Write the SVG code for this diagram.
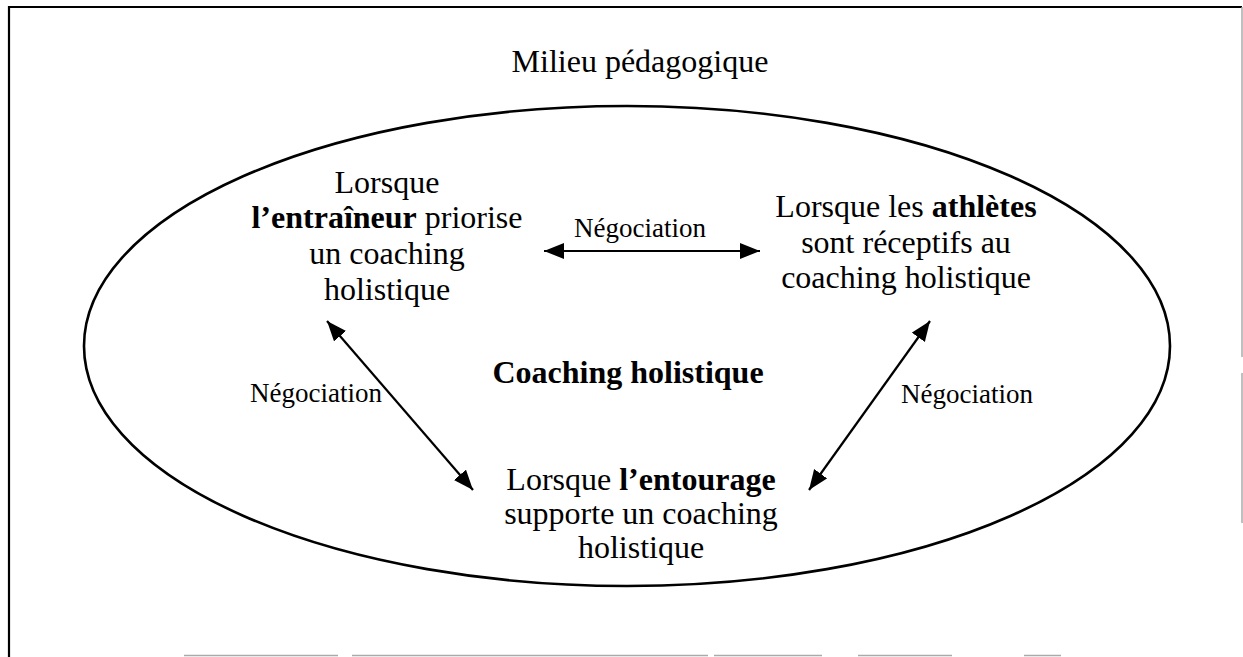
<svg xmlns="http://www.w3.org/2000/svg" width="1243" height="657" viewBox="0 0 1243 657">
  <style>
    text { font-family: "Liberation Serif", "Times New Roman", serif; fill: #000; }
    .main { font-size: 32px; text-anchor: middle; }
    .lbl { font-size: 27px; }
    .b { font-weight: bold; }
    .conn { stroke: #000; stroke-width: 2.2; fill: none; marker-start: url(#head); marker-end: url(#head); }
  </style>
  <defs>
    <marker id="head" markerUnits="userSpaceOnUse" markerWidth="22" markerHeight="18" refX="20" refY="8" orient="auto-start-reverse">
      <path d="M0,0 L20,8 L0,16 Z" fill="#000"/>
    </marker>
  </defs>

  <rect width="1243" height="657" fill="#fff"/>

  <!-- frame of the page box -->
  <g id="frame">
    <line x1="8" y1="7" x2="1242" y2="7" stroke="#000" stroke-width="2.2"/>
    <line x1="9" y1="6" x2="9" y2="657" stroke="#000" stroke-width="2.2"/>
    <line x1="1242" y1="7" x2="1242" y2="357" stroke="#aaa" stroke-width="1.5"/>
    <line x1="1242" y1="373" x2="1242" y2="523" stroke="#aaa" stroke-width="1.5"/>
    <g stroke="#aaa" stroke-width="1.5">
      <line x1="184" y1="655.5" x2="338" y2="655.5"/>
      <line x1="352" y1="655.5" x2="708" y2="655.5"/>
      <line x1="714" y1="655.5" x2="822" y2="655.5"/>
      <line x1="858" y1="655.5" x2="952" y2="655.5"/>
      <line x1="1024" y1="655.5" x2="1061" y2="655.5"/>
    </g>
  </g>

  <g id="milieu">
    <text class="main" x="640" y="72">Milieu pédagogique</text>
  </g>

  <g id="coaching-holistique">
    <ellipse cx="627" cy="346" rx="543" ry="240" fill="none" stroke="#000" stroke-width="2.6"/>
    <text class="main b" x="628" y="383">Coaching holistique</text>
  </g>

  <g id="entraineur">
    <text class="main" x="387" y="193">Lorsque</text>
    <text class="main" x="387" y="228"><tspan class="b">l’entraîneur</tspan> priorise</text>
    <text class="main" x="387" y="264">un coaching</text>
    <text class="main" x="387" y="300">holistique</text>
  </g>

  <g id="athletes">
    <text class="main" x="906" y="217">Lorsque les <tspan class="b">athlètes</tspan></text>
    <text class="main" x="906" y="253">sont réceptifs au</text>
    <text class="main" x="906" y="288">coaching holistique</text>
  </g>

  <g id="entourage">
    <text class="main" x="641" y="490">Lorsque <tspan class="b">l’entourage</tspan></text>
    <text class="main" x="641" y="524">supporte un coaching</text>
    <text class="main" x="641" y="558">holistique</text>
  </g>

  <g id="connectors">
    <line class="conn" x1="544" y1="251" x2="760" y2="251"/>
    <line class="conn" x1="327" y1="321" x2="473" y2="490"/>
    <line class="conn" x1="930" y1="321" x2="809" y2="490"/>
    <text class="lbl" x="640" y="237" text-anchor="middle">Négociation</text>
    <text class="lbl" x="250" y="402">Négociation</text>
    <text class="lbl" x="901" y="403">Négociation</text>
  </g>
</svg>
